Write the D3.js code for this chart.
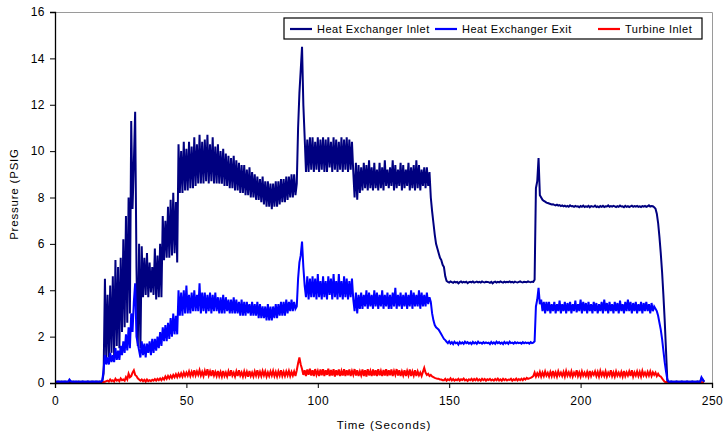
<!DOCTYPE html>
<html>
<head>
<meta charset="utf-8">
<script src="https://cdn.jsdelivr.net/npm/d3@7"></script>
<style>
  body { margin: 0; background: #fff; }
  text { font-family: "Liberation Sans", Arial, sans-serif; fill: #000; }
</style>
</head>
<body>
<div id="chart"></div>
<script>
const width = 723;
const height = 436;

// one sample every half second, t = 0 .. 247 s
const timeStep = 0.5;

const xTicks = [0, 50, 100, 150, 200, 250];
const yTicks = [0, 2, 4, 6, 8, 10, 12, 14, 16];

const seriesNames = ["Heat Exchanger Inlet", "Heat Exchanger Exit", "Turbine Inlet"];
const seriesColors = ["#000080", "#0000ff", "#ff0000"];

// rows of 10 = 5 seconds (first block: 0 - 17.5 s)
const hxInlet = [
  0.05,0.05,0.06,0.05,0.05,0.06,0.05,0.05,0.06,0.05,
  0.05,0.06,0.05,0.05,0.06,0.05,0.05,0.05,0.06,0.05,
  0.05,0.06,0.05,0.05,0.05,0.06,0.05,0.05,0.06,0.05,
  0.05,0.06,0.05,0.05,0.06,0.05,
  0.1,0.4,4.5,1.0,3.8,1.1,4.2,1.3,4.6,1.2,
  5.3,1.6,5.0,1.5,5.4,2.2,6.2,2.4,7.2,2.6,
  8.0,3.0,11.3,7.5,9.5,11.7,5.0,1.6,6.0,1.5,
  5.9,3.7,5.4,3.8,5.6,3.7,5.2,3.9,5.0,3.8,
  5.8,3.6,5.5,3.7,6.0,3.7,7.2,5.3,7.0,5.4,
  7.6,5.4,7.9,5.5,8.2,5.6,7.8,5.2,10.3,8.2,
  10.0,8.2,10.4,8.3,10.1,8.3,10.4,8.4,10.2,8.4,
  10.6,8.5,10.3,8.6,10.7,8.6,10.4,8.6,10.5,8.7,
  10.7,8.6,10.3,8.7,10.6,8.6,10.2,8.6,10.3,8.6,
  10.0,8.6,10.1,8.5,9.9,8.5,9.8,8.4,9.7,8.4,
  9.8,8.3,9.6,8.3,9.5,8.2,9.4,8.2,9.4,8.1,
  9.2,8.1,9.3,8.0,9.1,8.0,9.0,7.9,8.9,7.9,
  8.8,7.8,8.9,7.7,8.7,7.6,8.7,7.6,8.6,7.5,
  8.6,7.6,8.7,7.6,8.7,7.7,8.8,7.8,8.8,7.8,
  8.9,7.9,8.9,8.0,9.0,8.0,9.0,8.1,8.6,11.0,
  12.5,13.5,14.5,12.0,10.6,9.1,10.5,9.1,10.6,9.2,
  10.6,9.1,10.4,9.2,10.6,9.1,10.5,9.2,10.6,9.1,
  10.5,9.1,10.6,9.3,10.4,9.1,10.6,9.2,10.5,9.1,
  10.4,9.2,10.6,9.1,10.5,9.2,10.6,9.1,10.5,9.2,
  10.4,9.1,8.0,9.5,7.9,9.4,8.2,9.3,8.3,9.5,
  8.4,9.4,8.3,9.6,8.4,9.3,8.3,9.5,8.4,9.2,
  8.3,9.5,8.4,9.3,8.3,9.6,8.5,9.2,8.4,9.3,
  8.5,9.6,8.3,9.4,8.4,9.2,8.5,9.5,8.3,9.4,
  8.4,9.2,8.5,9.5,8.3,9.3,8.4,9.4,8.3,9.6,
  8.4,9.4,8.3,9.2,8.5,9.3,8.4,9.3,8.5,9.1,
  8.0,7.4,6.9,6.4,6.0,5.8,5.6,5.4,5.3,5.1,
  5.0,4.6,4.4,4.36,4.33,4.38,4.35,4.32,4.37,4.34,
  4.36,4.30,4.35,4.38,4.33,4.36,4.34,4.37,4.31,4.35,
  4.36,4.34,4.38,4.33,4.35,4.37,4.34,4.36,4.33,4.38,
  4.35,4.34,4.37,4.36,4.35,4.32,4.36,4.30,4.35,4.37,
  4.33,4.36,4.34,4.38,4.35,4.33,4.37,4.34,4.36,4.35,
  4.38,4.34,4.36,4.33,4.37,4.35,4.34,4.36,4.38,4.35,
  4.34,4.37,4.36,4.35,4.38,4.36,4.35,4.37,4.36,4.45,
  8.4,8.7,9.7,8.1,8.0,7.9,7.85,7.82,7.78,7.76,
  7.74,7.72,7.70,7.71,7.68,7.66,7.69,7.65,7.67,7.63,
  7.66,7.62,7.65,7.61,7.64,7.60,7.66,7.62,7.63,7.60,
  7.64,7.61,7.62,7.58,7.63,7.60,7.65,7.59,7.62,7.60,
  7.64,7.58,7.63,7.61,7.60,7.65,7.59,7.62,7.58,7.63,
  7.60,7.64,7.59,7.62,7.61,7.66,7.60,7.63,7.61,7.64,
  7.62,7.59,7.63,7.60,7.65,7.61,7.62,7.58,7.64,7.60,
  7.63,7.59,7.62,7.65,7.60,7.63,7.61,7.64,7.60,7.62,
  7.59,7.63,7.61,7.64,7.60,7.62,7.66,7.61,7.63,7.62,
  7.58,7.52,7.3,6.9,6.3,5.6,4.8,3.8,2.7,1.4,
  0.1,0.05,0.05,0.06,0.05,0.05,0.05,0.06,0.05,0.05,
  0.05,0.06,0.05,0.05,0.05,0.06,0.05,0.05,0.05,0.06,
  0.05,0.05,0.05,0.06,0.05,0.05,0.2,0.15,0.05
];

const hxExit = [
  0.05,0.05,0.05,0.06,0.05,0.05,0.05,0.06,0.05,0.05,
  0.05,0.15,0.08,0.05,0.05,0.05,0.06,0.05,0.05,0.05,
  0.05,0.06,0.05,0.05,0.05,0.06,0.05,0.05,0.05,0.06,
  0.05,0.05,0.06,0.05,0.05,0.05,
  0.1,0.6,1.2,0.8,1.1,0.8,1.3,0.9,1.2,0.9,
  1.5,1.0,1.4,1.0,1.6,1.2,1.8,1.3,2.1,1.4,
  2.4,1.5,3.0,2.2,3.5,4.3,2.0,1.7,1.4,1.1,
  1.8,1.2,1.7,1.1,1.7,1.3,1.8,1.2,1.9,1.3,
  1.9,1.4,2.0,1.5,2.2,1.6,2.4,1.8,2.5,1.8,
  2.6,1.9,2.8,2.0,3.0,2.1,2.9,2.1,4.0,2.9,
  3.9,2.9,4.0,3.0,4.2,3.0,3.8,3.0,3.9,3.1,
  4.0,3.1,3.8,3.1,4.3,3.0,3.9,3.1,3.9,3.0,
  3.8,3.1,3.9,3.0,3.8,3.1,3.9,3.1,3.7,3.0,
  3.7,3.0,3.8,3.0,3.7,3.1,3.6,3.0,3.6,3.0,
  3.7,3.0,3.6,3.0,3.5,2.9,3.6,2.9,3.5,2.9,
  3.5,3.0,3.4,2.9,3.5,2.9,3.4,2.9,3.5,2.8,
  3.4,2.8,3.3,2.8,3.3,2.7,3.4,2.7,3.3,2.7,
  3.3,2.8,3.4,2.8,3.4,2.9,3.5,2.9,3.5,2.9,
  3.6,3.0,3.5,3.1,3.6,3.1,3.5,3.2,3.3,4.5,
  5.2,5.5,6.1,5.0,4.2,3.7,4.6,3.6,4.5,3.7,
  4.6,3.7,4.5,3.6,4.7,3.7,4.4,3.6,4.6,3.7,
  4.4,3.6,4.6,3.8,4.5,3.6,4.7,3.7,4.4,3.6,
  4.7,3.7,4.4,3.6,4.6,3.7,4.5,3.6,4.4,3.7,
  4.5,3.6,3.1,3.9,3.0,3.8,3.2,3.9,3.2,3.8,
  3.3,4.0,3.2,3.9,3.3,3.8,3.2,4.0,3.3,3.9,
  3.2,3.8,3.3,4.0,3.2,3.8,3.3,3.9,3.2,3.8,
  3.2,3.9,3.3,4.1,3.2,3.8,3.3,3.9,3.2,3.8,
  3.3,3.9,3.2,3.8,3.3,4.0,3.2,3.9,3.3,3.8,
  3.3,4.0,3.2,3.9,3.3,3.8,3.3,3.9,3.4,3.7,
  3.5,3.0,2.7,2.5,2.4,2.35,2.3,2.2,2.1,2.0,
  1.9,1.85,1.78,1.72,1.80,1.70,1.76,1.68,1.78,1.71,
  1.74,1.66,1.77,1.70,1.75,1.69,1.78,1.72,1.76,1.70,
  1.74,1.68,1.77,1.71,1.75,1.69,1.78,1.72,1.74,1.70,
  1.76,1.71,1.75,1.72,1.74,1.68,1.77,1.70,1.75,1.69,
  1.78,1.72,1.76,1.70,1.74,1.68,1.77,1.71,1.75,1.69,
  1.78,1.72,1.74,1.70,1.76,1.71,1.75,1.72,1.74,1.70,
  1.76,1.71,1.75,1.72,1.74,1.70,1.76,1.72,1.74,1.80,
  3.3,3.6,4.1,3.4,3.6,3.1,3.5,3.0,3.5,3.1,
  3.5,3.0,3.4,3.1,3.5,3.0,3.4,3.1,3.55,3.0,
  3.4,3.1,3.5,3.0,3.45,3.1,3.5,3.0,3.4,3.1,
  3.55,3.05,3.4,3.1,3.6,3.0,3.5,3.1,3.45,3.0,
  3.5,3.1,3.4,3.0,3.5,3.1,3.45,3.0,3.4,3.1,
  3.5,3.0,3.6,3.1,3.45,3.0,3.5,3.1,3.4,3.0,
  3.5,3.1,3.45,3.0,3.55,3.1,3.4,3.0,3.5,3.1,
  3.6,3.1,3.5,3.0,3.45,3.1,3.5,3.0,3.4,3.1,
  3.5,3.0,3.45,3.1,3.5,3.1,3.4,3.0,3.45,3.1,
  3.3,3.2,3.1,2.9,2.6,2.3,1.9,1.4,0.9,0.5,
  0.15,0.05,0.05,0.06,0.05,0.05,0.05,0.06,0.05,0.05,
  0.05,0.06,0.05,0.05,0.05,0.06,0.05,0.05,0.05,0.06,
  0.05,0.05,0.05,0.06,0.05,0.05,0.25,0.15,0.05
];

const turbineInlet = [
  0.03,0.03,0.04,0.03,0.03,0.03,0.04,0.03,0.03,0.03,
  0.04,0.03,0.03,0.03,0.04,0.03,0.03,0.03,0.03,0.04,
  0.03,0.03,0.03,0.04,0.03,0.03,0.03,0.04,0.03,0.03,
  0.03,0.04,0.03,0.03,0.03,0.03,
  0.03,0.04,0.05,0.08,0.10,0.06,0.15,0.08,0.12,0.06,
  0.18,0.10,0.14,0.08,0.20,0.12,0.15,0.10,0.25,0.15,
  0.40,0.25,0.30,0.45,0.55,0.35,0.30,0.20,0.15,0.10,
  0.15,0.08,0.14,0.06,0.15,0.08,0.12,0.08,0.14,0.10,
  0.17,0.10,0.18,0.12,0.20,0.12,0.22,0.15,0.28,0.18,
  0.30,0.20,0.32,0.22,0.35,0.25,0.38,0.25,0.40,0.28,
  0.42,0.28,0.45,0.30,0.45,0.32,0.50,0.30,0.48,0.33,
  0.55,0.33,0.50,0.35,0.55,0.32,0.48,0.30,0.52,0.32,
  0.60,0.33,0.50,0.30,0.55,0.32,0.48,0.30,0.52,0.30,
  0.48,0.28,0.52,0.30,0.45,0.28,0.50,0.30,0.55,0.32,
  0.45,0.28,0.50,0.30,0.55,0.32,0.46,0.28,0.50,0.30,
  0.48,0.27,0.52,0.30,0.45,0.28,0.50,0.32,0.55,0.30,
  0.48,0.30,0.52,0.33,0.50,0.28,0.46,0.30,0.50,0.32,
  0.52,0.30,0.48,0.28,0.50,0.32,0.55,0.30,0.48,0.30,
  0.50,0.33,0.52,0.30,0.48,0.32,0.50,0.30,0.55,0.85,
  1.10,0.80,0.60,0.35,0.55,0.30,0.58,0.35,0.62,0.32,
  0.55,0.30,0.60,0.35,0.52,0.30,0.58,0.33,0.60,0.30,
  0.55,0.35,0.62,0.30,0.56,0.32,0.60,0.28,0.55,0.33,
  0.58,0.30,0.52,0.32,0.60,0.30,0.55,0.33,0.58,0.30,
  0.52,0.35,0.60,0.32,0.55,0.30,0.50,0.33,0.58,0.30,
  0.55,0.28,0.60,0.33,0.52,0.30,0.58,0.32,0.55,0.30,
  0.60,0.33,0.52,0.30,0.56,0.32,0.60,0.30,0.55,0.33,
  0.58,0.30,0.52,0.35,0.60,0.32,0.55,0.30,0.50,0.33,
  0.55,0.30,0.52,0.33,0.58,0.30,0.50,0.32,0.55,0.30,
  0.50,0.33,0.45,0.30,0.48,0.65,0.45,0.35,0.40,0.30,
  0.35,0.28,0.25,0.22,0.20,0.18,0.18,0.15,0.15,0.12,
  0.12,0.18,0.10,0.16,0.12,0.20,0.11,0.17,0.10,0.15,
  0.12,0.18,0.10,0.16,0.13,0.19,0.11,0.15,0.09,0.16,
  0.12,0.18,0.10,0.17,0.12,0.19,0.11,0.16,0.10,0.18,
  0.12,0.17,0.10,0.16,0.13,0.18,0.11,0.15,0.10,0.17,
  0.12,0.19,0.11,0.16,0.10,0.18,0.12,0.17,0.11,0.15,
  0.13,0.18,0.10,0.16,0.12,0.19,0.11,0.17,0.12,0.18,
  0.12,0.20,0.15,0.22,0.18,0.20,0.22,0.25,0.30,0.45,
  0.28,0.42,0.30,0.48,0.28,0.45,0.30,0.50,0.32,0.44,
  0.28,0.48,0.30,0.52,0.30,0.46,0.28,0.50,0.33,0.45,
  0.30,0.48,0.28,0.52,0.32,0.46,0.30,0.50,0.28,0.45,
  0.33,0.55,0.30,0.46,0.28,0.50,0.32,0.45,0.30,0.48,
  0.28,0.52,0.30,0.46,0.35,0.50,0.30,0.48,0.28,0.52,
  0.32,0.46,0.30,0.50,0.28,0.45,0.33,0.55,0.30,0.46,
  0.28,0.50,0.32,0.45,0.30,0.48,0.28,0.52,0.30,0.46,
  0.32,0.50,0.30,0.55,0.28,0.46,0.32,0.50,0.30,0.48,
  0.28,0.52,0.33,0.45,0.30,0.48,0.32,0.50,0.30,0.46,
  0.35,0.45,0.30,0.40,0.30,0.28,0.20,0.12,0.05,0.04,
  0.03,0.03,0.03,0.03,0.03,0.03,0.03,0.03,0.03,0.03,
  0.03,0.03,0.03,0.03,0.03,0.03,0.03,0.03,0.03,0.03,
  0.03,0.03,0.03,0.03,0.03,0.03,0.03,0.03,0.03
];

const plot = { left: 55, right: 712, top: 12, bottom: 383 };

const svg = d3.select("#chart").append("svg")
  .attr("width", width)
  .attr("height", height);

const x = d3.scaleLinear().domain([0, 250]).range([plot.left, plot.right]);
const y = d3.scaleLinear().domain([0, 16]).range([plot.bottom, plot.top]);

// plot frame (grey top / right)
svg.append("path")
  .attr("d", `M${plot.left},${plot.top + 0.5}H${plot.right + 0.5}V${plot.bottom}`)
  .attr("fill", "none")
  .attr("stroke", "#9a9a9a")
  .attr("stroke-width", 1);

// series lines
const line = d3.line()
  .x((d, i) => x(i * timeStep))
  .y(d => y(d));

const drawOrder = [
  { data: turbineInlet, color: seriesColors[2] },
  { data: hxInlet, color: seriesColors[0] },
  { data: hxExit, color: seriesColors[1] }
];

drawOrder.forEach(s => {
  svg.append("path")
    .datum(s.data)
    .attr("fill", "none")
    .attr("stroke", s.color)
    .attr("stroke-width", 2)
    .attr("d", line);
});

// axes
const yAxis = svg.append("g")
  .attr("transform", `translate(${plot.left},0)`)
  .call(d3.axisLeft(y).tickValues(yTicks).tickSize(5).tickPadding(5));
yAxis.select(".domain").attr("stroke", "#000").attr("stroke-width", 1.3);
yAxis.selectAll("text").attr("font-size", "12px").style("letter-spacing", "0.5px");

const xAxis = svg.append("g")
  .attr("transform", `translate(0,${plot.bottom})`)
  .call(d3.axisBottom(x).tickValues(xTicks).tickSize(5).tickPadding(8));
xAxis.select(".domain").attr("stroke", "#000").attr("stroke-width", 1.3);
xAxis.selectAll("text").attr("font-size", "12px").style("letter-spacing", "0.5px");

// axis titles
svg.append("text")
  .attr("x", 384)
  .attr("y", 429)
  .attr("text-anchor", "middle")
  .attr("font-size", "11.5px")
  .style("letter-spacing", "1px")
  .text("Time (Seconds)");

svg.append("text")
  .attr("transform", "translate(18,194) rotate(-90)")
  .attr("text-anchor", "middle")
  .attr("font-size", "11.5px")
  .style("letter-spacing", "0.8px")
  .text("Pressure (PSIG");

// legend
const legend = svg.append("g").attr("transform", "translate(284,18)");
legend.append("rect")
  .attr("width", 418)
  .attr("height", 21)
  .attr("fill", "#fff")
  .attr("stroke", "#000")
  .attr("stroke-width", 1.2);

const legendX = [6, 151, 314];
seriesNames.forEach((name, i) => {
  const g = legend.append("g").attr("transform", `translate(${legendX[i]},11)`);
  g.append("line")
    .attr("x1", 0).attr("x2", 22)
    .attr("stroke", seriesColors[i])
    .attr("stroke-width", 2.2);
  g.append("text")
    .attr("x", 27)
    .attr("y", 4)
    .attr("font-size", "11px")
    .style("letter-spacing", "0.5px")
    .text(name);
});
</script>
</body>
</html>
